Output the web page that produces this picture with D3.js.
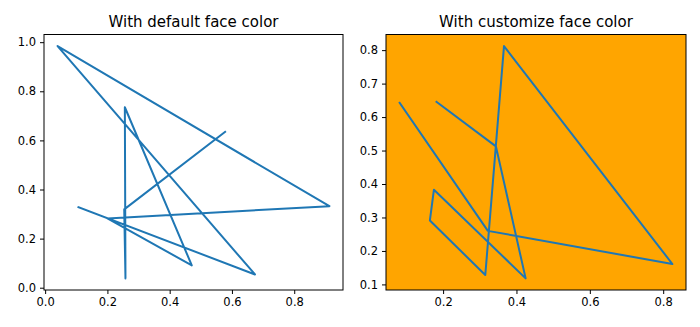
<!DOCTYPE html>
<html>
<head>
<meta charset="utf-8">
<script src="https://cdn.jsdelivr.net/npm/d3@7"></script>
<style>
  html, body { margin: 0; padding: 0; background: #fff; }
  svg { display: block; }
  text { font-family: "DejaVu Sans", sans-serif; fill: #000; }
</style>
</head>
<body>
<svg id="chart" width="700" height="327"></svg>
<script>
// Left panel data (path order)
const leftX = [0.107, 0.674, 0.040, 0.913, 0.200, 0.471, 0.256, 0.258, 0.254, 0.578];
const leftY = [0.328, 0.054, 0.984, 0.332, 0.282, 0.091, 0.735, 0.038, 0.319, 0.635];
const leftXTicks = [0.0, 0.2, 0.4, 0.6, 0.8];
const leftYTicks = [0.0, 0.2, 0.4, 0.6, 0.8, 1.0];
const leftTitle = "With default face color";

// Right panel data (path order)
const rightX = [0.0815, 0.322, 0.825, 0.366, 0.315, 0.164, 0.175, 0.425, 0.344, 0.182];
const rightY = [0.6425, 0.260, 0.161, 0.812, 0.128, 0.291, 0.383, 0.118, 0.5125, 0.6455];
const rightXTicks = [0.2, 0.4, 0.6, 0.8];
const rightYTicks = [0.1, 0.2, 0.3, 0.4, 0.5, 0.6, 0.7, 0.8];
const rightTitle = "With customize face color";

const svg = d3.select("#chart");

function padded(arr) {
  const [lo, hi] = d3.extent(arr);
  const m = (hi - lo) * 0.05;
  return [lo - m, hi + m];
}

function panel(opts) {
  const { xs, ys, xTicks, yTicks, title, left, right, top, bottom, face } = opts;
  const g = svg.append("g");
  const x = d3.scaleLinear().domain(padded(xs)).range([left, right]);
  const y = d3.scaleLinear().domain(padded(ys)).range([bottom, top]);

  g.append("rect")
    .attr("x", left).attr("y", top)
    .attr("width", right - left).attr("height", bottom - top)
    .attr("fill", face);

  const pts = xs.map((v, i) => [v, ys[i]]);
  g.append("path")
    .datum(pts)
    .attr("d", d3.line().x(d => x(d[0])).y(d => y(d[1])))
    .attr("fill", "none")
    .attr("stroke", "#1f77b4")
    .attr("stroke-width", 2)
    .attr("stroke-linejoin", "round")
    .attr("stroke-linecap", "square");

  // frame
  g.append("rect")
    .attr("x", left).attr("y", top)
    .attr("width", right - left).attr("height", bottom - top)
    .attr("fill", "none").attr("stroke", "#000").attr("stroke-width", 1);

  const xAxis = d3.axisBottom(x).tickValues(xTicks).tickFormat(d3.format(".1f"))
    .tickSize(4).tickPadding(4);
  const gx = g.append("g").attr("transform", `translate(0,${bottom})`).call(xAxis);
  const yAxis = d3.axisLeft(y).tickValues(yTicks).tickFormat(d3.format(".1f"))
    .tickSize(4).tickPadding(4);
  const gy = g.append("g").attr("transform", `translate(${left},0)`).call(yAxis);
  [gx, gy].forEach(a => {
    a.select(".domain").remove();
    a.selectAll("line").attr("stroke", "#000").attr("stroke-width", 1);
    a.selectAll("text").attr("font-size", 11.5).attr("font-family", "DejaVu Sans").attr("fill", "#000");
  });

  g.append("text")
    .attr("x", (left + right) / 2)
    .attr("y", 26.5)
    .attr("text-anchor", "middle")
    .attr("font-size", 15)
    .text(title);
}

panel({ xs: leftX, ys: leftY, xTicks: leftXTicks, yTicks: leftYTicks, title: leftTitle,
  left: 44, right: 343, top: 34.5, bottom: 290, face: "#ffffff" });
panel({ xs: rightX, ys: rightY, xTicks: rightXTicks, yTicks: rightYTicks, title: rightTitle,
  left: 386, right: 686, top: 34.5, bottom: 290, face: "#ffa500" });
</script>
</body>
</html>
